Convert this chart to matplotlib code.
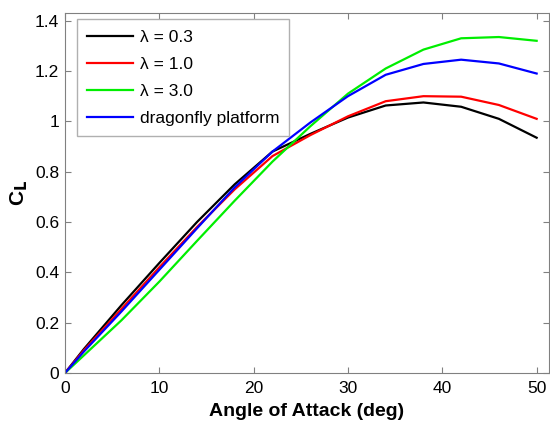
import numpy as np
import matplotlib
matplotlib.use("Agg")
import matplotlib.pyplot as plt

plt.rcParams['font.family'] = ['Liberation Sans', 'DejaVu Sans']

# angle of attack (deg)
aoa = [0, 2, 6, 10, 14, 18, 22, 26, 30, 34, 38, 42, 46, 50]

cl_03 = [0, 0.095, 0.27, 0.437, 0.60, 0.75, 0.88, 0.95, 1.015, 1.063, 1.075, 1.058, 1.01, 0.935]
cl_10 = [0, 0.09, 0.255, 0.42, 0.58, 0.73, 0.862, 0.945, 1.02, 1.08, 1.10, 1.098, 1.065, 1.01]
cl_30 = [0, 0.07, 0.21, 0.363, 0.525, 0.685, 0.84, 0.98, 1.11, 1.21, 1.285, 1.33, 1.335, 1.32]
cl_df = [0, 0.085, 0.245, 0.41, 0.575, 0.738, 0.88, 0.995, 1.10, 1.185, 1.228, 1.245, 1.23, 1.19]

fig = plt.figure(figsize=(5.5, 4.23), dpi=100)
ax = fig.add_axes([0.118, 0.118, 0.880, 0.851])

ax.plot(aoa, cl_03, color='black', lw=1.6, label='λ = 0.3')
ax.plot(aoa, cl_10, color='#ff0000', lw=1.6, label='λ = 1.0')
ax.plot(aoa, cl_30, color='#00ee00', lw=1.6, label='λ = 3.0')
ax.plot(aoa, cl_df, color='#0000ff', lw=1.6, label='dragonfly platform')

ax.set_xlim(0, 51.3)
ax.set_ylim(0, 1.43)
ax.set_xticks([0, 10, 20, 30, 40, 50])
ax.set_yticks([0, 0.2, 0.4, 0.6, 0.8, 1.0, 1.2, 1.4])
ax.set_yticklabels(['0', '0.2', '0.4', '0.6', '0.8', '1', '1.2', '1.4'])
ax.tick_params(direction='in', top=True, right=True, labelsize=12.5, length=4, color='#808080')
ax.tick_params(axis='x', pad=6)
ax.tick_params(axis='y', pad=4)
for s in ax.spines.values():
    s.set_color('#808080')

ax.set_xlabel('Angle of Attack (deg)', fontsize=14, fontweight='bold', labelpad=5)
ax.set_ylabel('C$_\\mathbf{L}$', fontsize=15, fontweight='bold', labelpad=4)

leg = ax.legend(loc='upper left', fontsize=12.5, fancybox=False, framealpha=1,
                edgecolor='#b0b0b0', handlelength=2.6, borderpad=0.6, labelspacing=0.68,
                handletextpad=0.4, borderaxespad=0, bbox_to_anchor=(0.025, 0.983))

fig.savefig('out.png', dpi=100)
